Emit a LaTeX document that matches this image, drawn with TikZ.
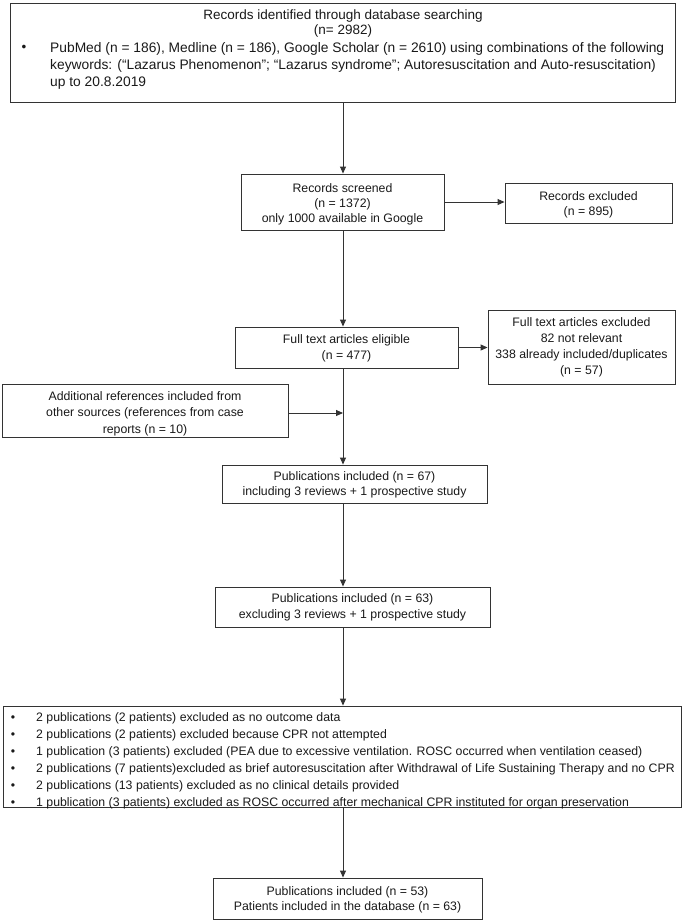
\documentclass[tikz,border=0pt]{standalone}
\usepackage{fontspec}
\setmainfont{Liberation Sans}
\usetikzlibrary{arrows.meta}
\begin{document}
\begin{tikzpicture}[x=1pt,y=-1pt,
  box/.style={draw=black!80, line width=0.9pt, inner sep=0pt},
  txt/.style={inner sep=0pt, text=black!90, align=center},
  norm/.style={font=\fontsize{12.3}{15.5}\selectfont},
  arr/.style={draw=black!80, line width=0.9pt, -{Triangle[length=7pt,width=6pt]}},
  ln/.style={draw=black!80, line width=0.9pt}]
\useasboundingbox (0,0) rectangle (685,922);
% top box
\node[box, minimum width=665, minimum height=99] (top) at (342.5,52.5) {};
\node[txt, font=\fontsize{13.5}{15}\selectfont] (title) at (343,23.5) {Records identified through database searching\\(n= 2982)};
\node[txt, font=\fontsize{13.5}{15}\selectfont] (b0) at (24,48) {•};
\node[txt, font=\fontsize{13.8}{17}\selectfont, align=left, anchor=west] (btxt) at (50,65.5) {PubMed (n = 186), Medline (n = 186), Google Scholar (n = 2610) using combinations of the following\\keywords: (“Lazarus Phenomenon”; “Lazarus syndrome”; Autoresuscitation and Auto-resuscitation)\\up to 20.8.2019};
% boxes
\node[box, minimum width=203, minimum height=56] (scr) at (342.5,202) {};
\node[txt, font=\fontsize{12.3}{15}\selectfont] (scrt) at (342.5,204.5) {Records screened\\(n = 1372)\\only 1000 available in Google};
\node[box, minimum width=167, minimum height=40] (exc) at (588.5,203) {};
\node[txt, norm] (exct) at (588.5,205) {Records excluded\\(n = 895)};
\node[box, minimum width=223, minimum height=41] (elig) at (346.5,347.5) {};
\node[txt, norm] (eligt) at (346.5,348.5) {Full text articles eligible\\(n = 477)};
\node[box, minimum width=187, minimum height=74] (fte) at (581.5,347) {};
\node[txt, font=\fontsize{12.3}{16}\selectfont] (ftet) at (581.5,347.5) {Full text articles excluded\\82 not relevant\\338 already included/duplicates\\(n = 57)};
\node[box, minimum width=286, minimum height=53] (add) at (145,410.5) {};
\node[txt, font=\fontsize{12.3}{16.5}\selectfont] (addt) at (145,413.5) {Additional references included from\\other sources (references from case\\reports (n = 10)};
\node[box, minimum width=265, minimum height=38] (p67) at (354.5,484) {};
\node[txt, norm] (p67t) at (354.5,485) {Publications included (n = 67)\\including 3 reviews + 1 prospective study};
\node[box, minimum width=275, minimum height=40] (p63) at (352.5,607) {};
\node[txt, norm] (p63t) at (352.5,607.5) {Publications included (n = 63)\\excluding 3 reviews + 1 prospective study};
\node[box, minimum width=678, minimum height=101] (list) at (342,756.5) {};
\node[txt, font=\fontsize{12.3}{17}\selectfont] (lb) at (13,761) {•\\•\\•\\•\\•\\•};
\node[txt, font=\fontsize{12.3}{17}\selectfont, align=left, anchor=west] (lt) at (36,761) {2 publications (2 patients) excluded as no outcome data\\2 publications (2 patients) excluded because CPR not attempted\\1 publication (3 patients) excluded (PEA due to excessive ventilation. ROSC occurred when ventilation ceased)\\2 publications (7 patients)excluded as brief autoresuscitation after Withdrawal of Life Sustaining Therapy and no CPR\\2 publications (13 patients) excluded as no clinical details provided\\1 publication (3 patients) excluded as ROSC occurred after mechanical CPR instituted for organ preservation};
\node[box, minimum width=269, minimum height=41] (fin) at (347.5,898.5) {};
\node[txt, norm] (fint) at (347.5,900) {Publications included (n = 53)\\Patients included in the database (n = 63)};
% connectors
\coordinate (sx) at (343,0);
\draw[arr] (top.south -| sx) -- (scr.north -| sx);
\draw[arr] (scr.east) -- (scr.east -| exc.west);
\draw[arr] (scr.south -| sx) -- (elig.north -| sx);
\draw[arr] (elig.east) -- (elig.east -| fte.west);
\draw[arr] ([yshift=-2.5pt]add.east) -- ([yshift=-2.5pt]add.east -| sx);
\draw[arr] (elig.south -| sx) -- (p67.north -| sx);
\draw[arr] (p67.south -| sx) -- (p63.north -| sx);
\draw[arr] (p63.south -| sx) -- (list.north -| sx);
\draw[arr] (list.south -| sx) -- (fin.north -| sx);
\end{tikzpicture}
\end{document}
